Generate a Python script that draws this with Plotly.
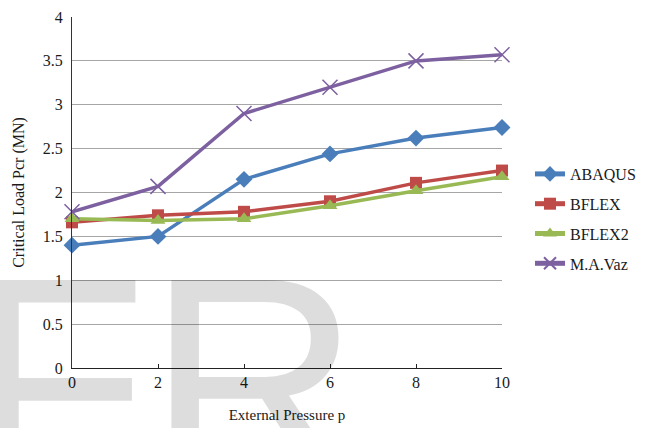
import plotly.graph_objects as go

# External pressure values (x axis)
pressure = [0, 2, 4, 6, 8, 10]

# Critical load Pcr (MN) for each method
abaqus = [1.40, 1.50, 2.15, 2.44, 2.62, 2.74]
bflex = [1.66, 1.74, 1.78, 1.90, 2.11, 2.25]
bflex2 = [1.70, 1.68, 1.70, 1.85, 2.02, 2.18]
ma_vaz = [1.78, 2.07, 2.90, 3.20, 3.50, 3.57]

x_ticks = [0, 2, 4, 6, 8, 10]
y_ticks = [0, 0.5, 1, 1.5, 2, 2.5, 3, 3.5, 4]

series = [
    ("ABAQUS", abaqus, "#4A7EBB", dict(symbol="diamond", size=13)),
    ("BFLEX", bflex, "#BE4B48", dict(symbol="square", size=12)),
    ("BFLEX2", bflex2, "#98B954", dict(symbol="triangle-up", size=13)),
    ("M.A.Vaz", ma_vaz, "#7D60A0", dict(symbol="x-thin", size=15)),
]

serif = "Liberation Serif"

fig = go.Figure()
for name, vals, color, marker in series:
    m = dict(color=color, **marker)
    if marker["symbol"] == "x-thin":
        m["line"] = dict(width=1.5, color=color)
    fig.add_trace(go.Scatter(
        x=pressure, y=vals, name=name, legendgroup=name,
        mode="lines+markers",
        line=dict(color=color, width=3.5),
        marker=m,
        cliponaxis=False,
    ))

# Large faint "FR" lettering in the lower left
W, H = 646, 428
L, R, T, B = 72, 144, 17, 60
PW, PH = W - L - R, H - T - B
fig.add_annotation(
    text="FR", xref="paper", yref="paper",
    x=(-35 - L) / PW, y=(PH + T - 214) / PH,
    xanchor="left", yanchor="top", showarrow=False,
    font=dict(family="Liberation Sans", size=295,
              color="rgba(0,0,0,0.135)"),
)

fig.update_layout(
    width=W, height=H,
    margin=dict(l=L, r=R, t=T, b=B),
    paper_bgcolor="white", plot_bgcolor="white",
    font=dict(family=serif, size=16, color="#1a1a1a"),
    showlegend=True,
    legend=dict(
        xref="container", yref="container",
        x=530 / W, xanchor="left", y=1 - 219 / H, yanchor="middle",
        font=dict(family=serif, size=16, color="#1a1a1a"),
        tracegroupgap=6, traceorder="grouped", itemsizing="constant",
        bgcolor="rgba(0,0,0,0)",
    ),
    xaxis=dict(
        range=[0, 10], tickvals=x_ticks, ticktext=[str(v) for v in x_ticks],
        showgrid=False, zeroline=False, automargin=False,
        showline=True, linecolor="#222", linewidth=1.3,
        ticks="inside", ticklen=4, tickcolor="#222",
        tickfont=dict(family=serif, size=16),
        title=dict(text="External Pressure p", font=dict(family=serif, size=15), standoff=19),
    ),
    yaxis=dict(
        range=[0, 4], tickvals=y_ticks, automargin=False,
        ticktext=["0", "0.5", "1", "1.5", "2", "2.5", "3", "3.5", "4"],
        showgrid=True, gridcolor="#A6A6A6", gridwidth=1,
        zeroline=False,
        showline=True, linecolor="#333", linewidth=1.3,
        ticks="", ticklabelstandoff=5, tickfont=dict(family=serif, size=16),
        title=dict(text="Critical Load Pcr (MN)", font=dict(family=serif, size=16), standoff=14),
    ),
)

fig.write_html("out.html")
